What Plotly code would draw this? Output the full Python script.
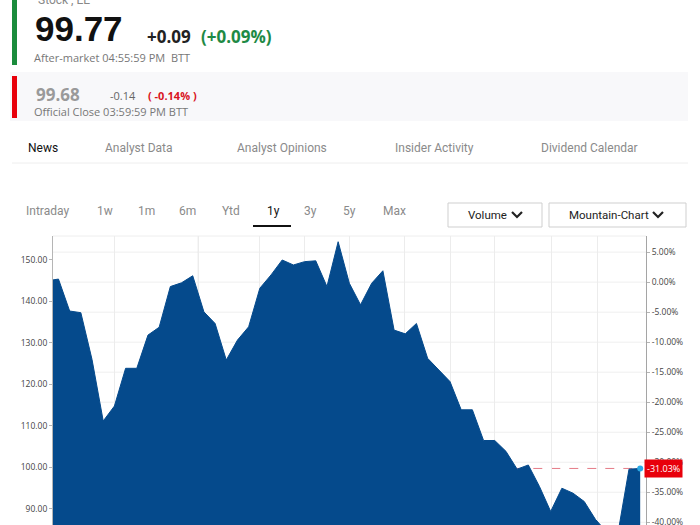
import plotly.graph_objects as go

# ---------------- data ----------------
weeks = list(range(-1, 53))
prices = [145.0, 145.4, 137.7, 137.3, 126.0, 111.2, 114.8, 123.9, 123.9, 131.9,
          133.8, 143.6, 144.5, 146.2, 137.5, 134.7, 125.9, 130.7, 133.9, 143.2,
          146.4, 150.0, 148.8, 149.6, 149.8, 143.6, 154.4, 144.4, 139.2, 144.4,
          147.4, 133.1, 132.2, 134.7, 126.3, 123.5, 120.7, 113.9, 113.9, 106.5,
          106.5, 103.9, 99.6, 100.6, 95.4, 89.4, 95.0, 93.8, 91.8, 87.5,
          84.5, 84.0, 99.6, 99.77]
base_price = 144.66
price_ticks = [90, 100, 110, 120, 130, 140, 150]
pct_ticks = [5, 0, -5, -10, -15, -20, -25, -30, -35, -40]
month_ticks = [5.03, 12.5, 18.0, 22.02, 26.04, 30.96, 35.08, 39.02, 44.03, 48.14]
year_break = 12.5

tabs = ["News", "Analyst Data", "Analyst Opinions", "Insider Activity", "Dividend Calendar"]
periods = ["Intraday", "1w", "1m", "6m", "Ytd", "1y", "3y", "5y", "Max"]

# ---------------- layout helpers ----------------
W, H = 700, 525
L, R, T, B = 53, 646, 236, 525
y_lo, y_hi = 86.14, 155.78
x_lo, x_hi = -0.49, 52.52


def pct(v):
    return (v / base_price - 1) * 100


def PX(x):
    return (x - L) / (R - L)


def PY(y):
    return (B - y) / (B - T)


fig = go.Figure()
fig.add_trace(go.Scatter(x=weeks, y=prices, mode="lines", fill="tozeroy",
                         line=dict(color="#054a8c", width=1),
                         fillcolor="#054a8c", hoverinfo="skip", showlegend=False))
# invisible trace to activate yaxis2
fig.add_trace(go.Scatter(x=[weeks[-1]], y=[pct(prices[-1])], yaxis="y2", mode="markers",
                         marker=dict(opacity=0), hoverinfo="skip", showlegend=False))
fig.add_trace(go.Scatter(x=[weeks[-1]], y=[prices[-1]], mode="markers",
                         marker=dict(color="#2aa9e6", size=6),
                         hoverinfo="skip", showlegend=False))

shapes = []
annotations = []

# gridlines (below the area)
for p in pct_ticks:
    shapes.append(dict(type="line", xref="paper", yref="y2", x0=0, x1=1, y0=p, y1=p,
                       line=dict(color="#efefef", width=1), layer="below"))
shapes.append(dict(type="line", xref="x", yref="paper", x0=year_break, x1=year_break,
                   y0=0, y1=1, line=dict(color="#d4d4d4", width=1), layer="below"))
shapes.append(dict(type="line", xref="paper", yref="paper", x0=0, x1=1, y0=1, y1=1,
                   line=dict(color="#eeeeee", width=1), layer="below"))
# last-value dashed line
shapes.append(dict(type="line", xref="x", yref="y", x0=weeks[0], x1=weeks[-1],
                   y0=prices[-1], y1=prices[-1],
                   line=dict(color="#e57b86", width=1, dash="dash"), layer="below"))


def rect(x0, y0, x1, y1, fill, line=None):
    shapes.append(dict(type="rect", xref="paper", yref="paper",
                       x0=PX(x0), x1=PX(x1), y0=PY(y1), y1=PY(y0),
                       fillcolor=fill, line=dict(width=1 if line else 0,
                                                 color=line or fill),
                       layer="above"))


def text(x, y, s, size, color, bold=False, family="Liberation Sans", anchor="left"):
    annotations.append(dict(xref="paper", yref="paper", x=PX(x), y=PY(y),
                            xanchor=anchor, yanchor="middle", showarrow=False,
                            text=f"<b>{s}</b>" if bold else s,
                            font=dict(size=size, color=color, family=family)))


def chevron(x, y):
    path = (f"M {PX(x)} {PY(y)} L {PX(x + 5)} {PY(y + 5)} L {PX(x + 10)} {PY(y)}")
    shapes.append(dict(type="path", xref="paper", yref="paper", path=path,
                       line=dict(color="#222", width=2.2)))


# header blocks
rect(10, 72, 688, 121, "#f8f8fa")
rect(12, -2, 17, 65, "#1b8c3c")
rect(12, 76, 17, 118, "#e8000b")

text(36, 0, "Stock , EE", 12, "#888888", family="Roboto")
text(33, 29, "99.77", 35, "#111111", bold=True)
text(145, 36, "+0.09", 17, "#222222", bold=True, family="Open Sans")
text(199, 36, "(+0.09%)", 17, "#1e8a45", bold=True, family="Open Sans")
text(32, 57, "After-market 04:55:59 PM  BTT", 11, "#777777", family="Open Sans")
text(34, 94, "99.68", 17, "#9a9a9a", bold=True, family="Open Sans")
text(108, 95, "-0.14", 11, "#666666", family="Open Sans")
text(146, 95, "( -0.14% )", 11, "#d8141e", bold=True, family="Open Sans")
text(32, 111, "Official Close 03:59:59 PM BTT", 11, "#777777", family="Open Sans")

# tabs
tab_x = [26, 103, 235, 393, 539]
for tx, t in zip(tab_x, tabs):
    text(tx, 148, t, 12, "#111111" if t == "News" else "#8a8a8a", family="Roboto")
shapes.append(dict(type="line", xref="paper", yref="paper", x0=PX(12), x1=PX(688),
                   y0=PY(163), y1=PY(163), line=dict(color="#eeeeee", width=1)))

# period selector
period_x = [24, 95, 136, 177, 220, 265, 302, 341, 381]
for px_, p in zip(period_x, periods):
    text(px_, 211, p, 12, "#111111" if p == "1y" else "#8a8a8a", family="Roboto")
rect(253, 225, 291, 227, "#111111")

# dropdown buttons
rect(448, 203, 542, 227, "#ffffff", line="#cfcfcf")
rect(549, 203, 686, 227, "#ffffff", line="#cfcfcf")
text(466, 215, "Volume", 11.5, "#222222", family="Roboto")
text(567, 215, "Mountain-Chart", 11.5, "#222222", family="Roboto")
chevron(512, 212)
chevron(653, 212)

# last value label
annotations.append(dict(xref="paper", yref="y2", x=1, y=pct(prices[-1]),
                        xanchor="left", yanchor="middle", xshift=-2, showarrow=False,
                        text=f"{pct(prices[-1]):.2f}%",
                        font=dict(size=9, color="#ffffff", family="Open Sans"),
                        bgcolor="#e8000b", borderpad=2))

fig.update_layout(
    width=W, height=H,
    margin=dict(l=L, r=W - R, t=T, b=H - B, autoexpand=False),
    paper_bgcolor="#ffffff", plot_bgcolor="#ffffff",
    showlegend=False,
    shapes=shapes, annotations=annotations,
    xaxis=dict(range=[x_lo, x_hi], tickvals=month_ticks, showticklabels=False,
               showgrid=True, gridcolor="#ececec", gridwidth=1, zeroline=False,
               showline=False, ticks="", automargin=False),
    yaxis=dict(range=[y_lo, y_hi], tickvals=price_ticks,
               ticktext=[f"{v:.2f}" for v in price_ticks], side="left",
               showgrid=False, zeroline=False, showline=True, linecolor="#b5b5b5",
               ticks="outside", ticklen=3, tickcolor="#b5b5b5",
               ticklabeloverflow="allow", automargin=False,
               tickfont=dict(size=8.5, color="#444444", family="Open Sans")),
    yaxis2=dict(range=[pct(y_lo), pct(y_hi)], tickvals=pct_ticks,
                ticktext=[f"{v:.2f}%" for v in pct_ticks], side="right",
                overlaying="y", showgrid=False, zeroline=False, showline=True,
                linecolor="#a5a5a5", ticks="outside", ticklen=3, tickcolor="#b5b5b5",
                ticklabeloverflow="allow", automargin=False,
                tickfont=dict(size=8.5, color="#444444", family="Open Sans")),
)

fig.write_html("out.html")
